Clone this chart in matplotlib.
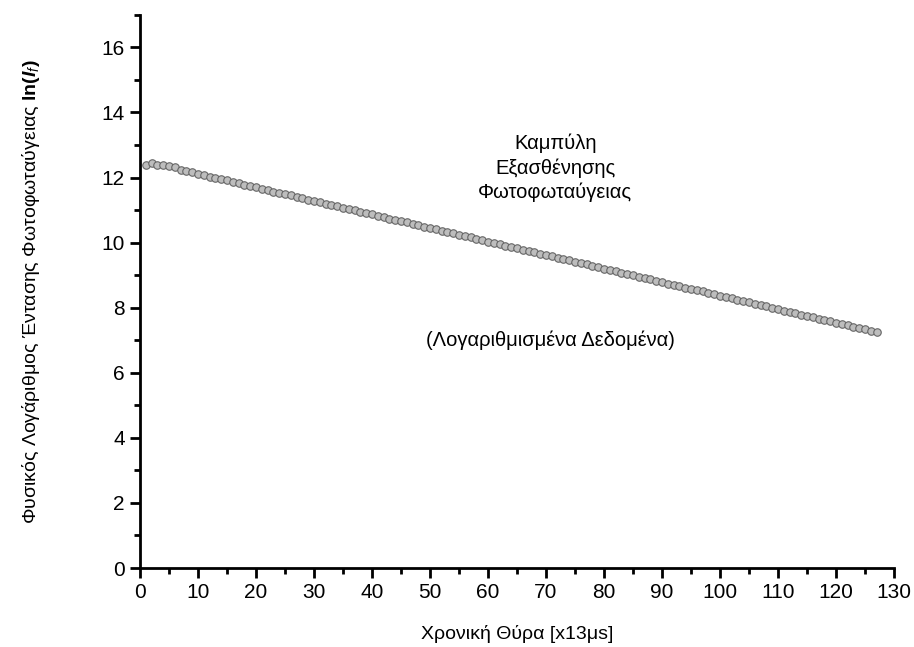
import matplotlib
matplotlib.use('Agg')
import matplotlib.pyplot as plt
from matplotlib.ticker import MultipleLocator

plt.rcParams['font.family'] = ['Liberation Sans', 'DejaVu Sans']
plt.rcParams['mathtext.fontset'] = 'custom'
plt.rcParams['mathtext.rm'] = 'Liberation Sans'
plt.rcParams['mathtext.it'] = 'Liberation Sans:italic'
plt.rcParams['mathtext.bf'] = 'Liberation Sans:bold'
plt.rcParams['mathtext.bfit'] = 'Liberation Sans:italic:bold'

# time gate index (x13 us)
gate = list(range(1, 128))

# ln of photoluminescence intensity
ln_intensity = [
    12.38, 12.45, 12.40, 12.37, 12.35, 12.31, 12.24, 12.20, 12.16, 12.11,
    12.07, 12.03, 11.99, 11.95, 11.91, 11.86, 11.82, 11.78, 11.74, 11.70,
    11.66, 11.61, 11.57, 11.53, 11.49, 11.45, 11.41, 11.37, 11.32, 11.28,
    11.24, 11.20, 11.16, 11.12, 11.07, 11.03, 10.99, 10.95, 10.91, 10.87,
    10.82, 10.78, 10.74, 10.70, 10.66, 10.62, 10.58, 10.53, 10.49, 10.45,
    10.41, 10.37, 10.33, 10.28, 10.24, 10.20, 10.16, 10.12, 10.08, 10.03,
    9.99, 9.95, 9.91, 9.87, 9.83, 9.78, 9.74, 9.70, 9.66, 9.62,
    9.58, 9.54, 9.49, 9.45, 9.41, 9.37, 9.33, 9.29, 9.24, 9.20,
    9.16, 9.12, 9.08, 9.04, 8.99, 8.95, 8.91, 8.87, 8.83, 8.79,
    8.74, 8.70, 8.66, 8.62, 8.58, 8.54, 8.50, 8.45, 8.41, 8.37,
    8.33, 8.29, 8.25, 8.20, 8.16, 8.12, 8.08, 8.04, 8.00, 7.95,
    7.91, 7.87, 7.83, 7.79, 7.75, 7.70, 7.66, 7.62, 7.58, 7.54,
    7.50, 7.46, 7.41, 7.37, 7.33, 7.29, 7.25,
]

fig = plt.figure(figsize=(9.14, 6.47), dpi=100)
ax = fig.add_axes([0.1532, 0.1221, 0.825, 0.855])

ax.plot(gate, ln_intensity, 'o', ms=5.4, mfc='#bdbdbd', mec='#666666', mew=0.8)

ax.set_xlim(0, 130)
ax.set_ylim(0, 17)
ax.xaxis.set_major_locator(MultipleLocator(10))
ax.xaxis.set_minor_locator(MultipleLocator(5))
ax.yaxis.set_major_locator(MultipleLocator(2))
ax.yaxis.set_minor_locator(MultipleLocator(1))

for s in ['top', 'right']:
    ax.spines[s].set_visible(False)
for s in ['left', 'bottom']:
    ax.spines[s].set_linewidth(2)

ax.tick_params(which='major', direction='out', length=7, width=2, labelsize=15, pad=4)
ax.tick_params(which='minor', direction='out', length=4, width=2)

ax.set_xlabel('Χρονική Θύρα [x13μs]', fontsize=14)
ax.set_ylabel(r'Φυσικός Λογάριθμος Έντασης Φωτοφωταύγειας $\mathbf{ln(}\mathbfit{I}_{f}\mathbf{)}$',
              fontsize=14)
ax.xaxis.set_label_coords(0.5, -0.103)
ax.yaxis.set_label_coords(-0.130, 0.5)

ax.text(71.6, 12.3, 'Καμπύλη\nΕξασθένησης\nΦωτοφωταύγειας', ha='center', va='center',
        fontsize=14.5, linespacing=1.35)
ax.text(70.7, 7.0, '(Λογαριθμισμένα Δεδομένα)', ha='center', va='center', fontsize=14.5)

fig.savefig('out.png', dpi=100)
